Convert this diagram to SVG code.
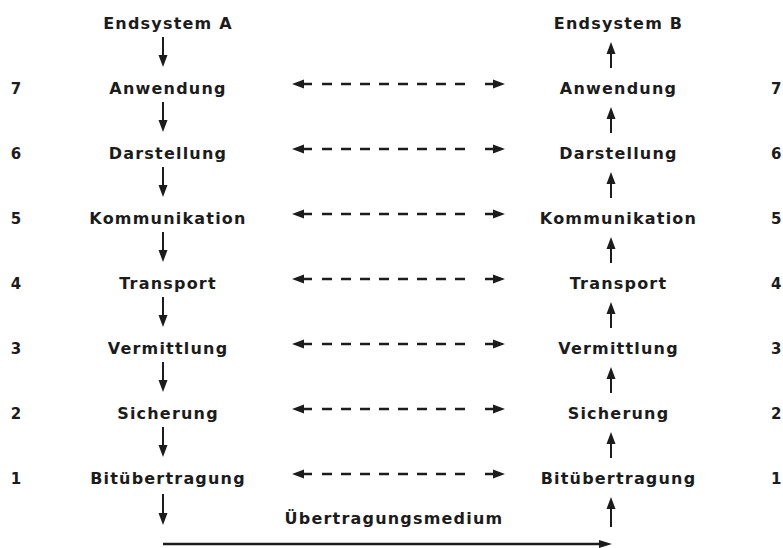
<svg xmlns="http://www.w3.org/2000/svg" width="783" height="548" viewBox="0 0 783 548">
<style>
text{font-family:"DejaVu Sans","Liberation Sans",sans-serif;font-weight:bold;font-size:16px;fill:#1c1c1c}
.lbl{text-anchor:middle;letter-spacing:1.2px}
.num{font-size:15px}
.sl{stroke:#1c1c1c;stroke-width:2;fill:none}
.dl{stroke:#1c1c1c;stroke-width:2.6;fill:none;stroke-dasharray:10 9}
.hd{fill:#1c1c1c}
</style>
<defs>
<path id="hL" d="M0,0 L12,-4.5 L12,-1.3 L20,-1.3 L20,1.3 L12,1.3 L12,4.5 Z" class="hd"/>
<path id="hR" d="M0,0 L-12,-4.5 L-12,-1.3 L-20,-1.3 L-20,1.3 L-12,1.3 L-12,4.5 Z" class="hd"/>
<path id="hD" d="M0,0 L-4.5,-12 L4.5,-12 Z" class="hd"/>
<path id="hU" d="M0,0 L-4.5,12 L4.5,12 Z" class="hd"/>
</defs>
<g id="endsystemA"><text class="lbl" x="168" y="29">Endsystem A</text></g>
<g id="endsystemB"><text class="lbl" x="618.5" y="29">Endsystem B</text></g>
<g id="numbersLeft">
<text class="num" x="16" y="94" text-anchor="middle">7</text>
<text class="num" x="16" y="159" text-anchor="middle">6</text>
<text class="num" x="16" y="224" text-anchor="middle">5</text>
<text class="num" x="16" y="289" text-anchor="middle">4</text>
<text class="num" x="16" y="354" text-anchor="middle">3</text>
<text class="num" x="16" y="419" text-anchor="middle">2</text>
<text class="num" x="16" y="484" text-anchor="middle">1</text>
</g>
<g id="numbersRight">
<text class="num" x="771" y="94">7</text>
<text class="num" x="771" y="159">6</text>
<text class="num" x="771" y="224">5</text>
<text class="num" x="771" y="289">4</text>
<text class="num" x="771" y="354">3</text>
<text class="num" x="771" y="419">2</text>
<text class="num" x="771" y="484">1</text>
</g>
<g id="a7"><text class="lbl" x="168" y="94">Anwendung</text></g>
<g id="a6"><text class="lbl" x="168" y="159">Darstellung</text></g>
<g id="a5"><text class="lbl" x="168" y="224">Kommunikation</text></g>
<g id="a4"><text class="lbl" x="168" y="289">Transport</text></g>
<g id="a3"><text class="lbl" x="168" y="354">Vermittlung</text></g>
<g id="a2"><text class="lbl" x="168" y="419">Sicherung</text></g>
<g id="a1"><text class="lbl" x="168" y="484">Bitübertragung</text></g>
<g id="b7"><text class="lbl" x="618.5" y="94">Anwendung</text></g>
<g id="b6"><text class="lbl" x="618.5" y="159">Darstellung</text></g>
<g id="b5"><text class="lbl" x="618.5" y="224">Kommunikation</text></g>
<g id="b4"><text class="lbl" x="618.5" y="289">Transport</text></g>
<g id="b3"><text class="lbl" x="618.5" y="354">Vermittlung</text></g>
<g id="b2"><text class="lbl" x="618.5" y="419">Sicherung</text></g>
<g id="b1"><text class="lbl" x="618.5" y="484">Bitübertragung</text></g>
<g id="medium"><text class="lbl" x="394" y="524">Übertragungsmedium</text></g>
<g id="connectors">
<g>
<line class="sl" x1="163" y1="37" x2="163" y2="60"/><use href="#hD" x="163" y="67"/>
<line class="sl" x1="163" y1="102" x2="163" y2="125"/><use href="#hD" x="163" y="132"/>
<line class="sl" x1="163" y1="167" x2="163" y2="190"/><use href="#hD" x="163" y="197"/>
<line class="sl" x1="163" y1="232" x2="163" y2="255"/><use href="#hD" x="163" y="262"/>
<line class="sl" x1="163" y1="297" x2="163" y2="320"/><use href="#hD" x="163" y="327"/>
<line class="sl" x1="163" y1="362" x2="163" y2="385"/><use href="#hD" x="163" y="392"/>
<line class="sl" x1="163" y1="427" x2="163" y2="450"/><use href="#hD" x="163" y="457"/>
<line class="sl" x1="163" y1="494" x2="163" y2="518"/><use href="#hD" x="163" y="525"/>
</g>
<g>
<line class="sl" x1="611" y1="68" x2="611" y2="48"/><use href="#hU" x="611" y="42"/>
<line class="sl" x1="611" y1="133" x2="611" y2="114"/><use href="#hU" x="611" y="107"/>
<line class="sl" x1="611" y1="198" x2="611" y2="179"/><use href="#hU" x="611" y="172"/>
<line class="sl" x1="611" y1="263" x2="611" y2="244"/><use href="#hU" x="611" y="237"/>
<line class="sl" x1="611" y1="328" x2="611" y2="309"/><use href="#hU" x="611" y="302"/>
<line class="sl" x1="611" y1="393" x2="611" y2="374"/><use href="#hU" x="611" y="367"/>
<line class="sl" x1="611" y1="458" x2="611" y2="439"/><use href="#hU" x="611" y="432"/>
<line class="sl" x1="611" y1="527" x2="611" y2="504"/><use href="#hU" x="611" y="497"/>
</g>
<g>
<use href="#hL" x="292" y="84"/><line class="dl" x1="322" y1="84" x2="472" y2="84"/><use href="#hR" x="505" y="84"/>
<use href="#hL" x="292" y="149"/><line class="dl" x1="322" y1="149" x2="472" y2="149"/><use href="#hR" x="505" y="149"/>
<use href="#hL" x="292" y="214"/><line class="dl" x1="322" y1="214" x2="472" y2="214"/><use href="#hR" x="505" y="214"/>
<use href="#hL" x="292" y="279"/><line class="dl" x1="322" y1="279" x2="472" y2="279"/><use href="#hR" x="505" y="279"/>
<use href="#hL" x="292" y="344"/><line class="dl" x1="322" y1="344" x2="472" y2="344"/><use href="#hR" x="505" y="344"/>
<use href="#hL" x="292" y="409"/><line class="dl" x1="322" y1="409" x2="472" y2="409"/><use href="#hR" x="505" y="409"/>
<use href="#hL" x="292" y="474"/><line class="dl" x1="322" y1="474" x2="472" y2="474"/><use href="#hR" x="505" y="474"/>
</g>
<g>
<line x1="163" y1="544" x2="600" y2="544" stroke="#1c1c1c" stroke-width="2.5"/>
<path class="hd" d="M612,544 L599,540 L599,548 Z"/>
</g>
</g>
</svg>
